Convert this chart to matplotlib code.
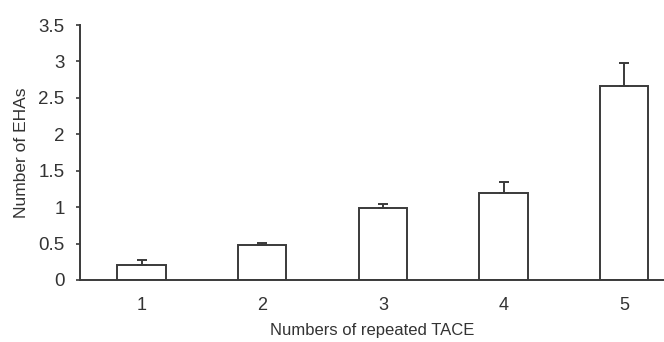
import matplotlib
matplotlib.use("Agg")
import matplotlib.pyplot as plt

categories = ["1", "2", "3", "4", "5"]
values = [0.21, 0.48, 0.99, 1.19, 2.66]
errors = [0.06, 0.03, 0.06, 0.16, 0.32]
yticks = [0, 0.5, 1, 1.5, 2, 2.5, 3, 3.5]
ytick_labels = ["0", "0.5", "1", "1.5", "2", "2.5", "3", "3.5"]

plt.rcParams['font.family'] = ['Liberation Sans', 'DejaVu Sans']
col = "#3a3a3a"
tcol = "#333333"
fig = plt.figure(figsize=(6.64, 3.42), dpi=100)
ax = fig.add_axes([80 / 664, 62 / 342, 584 / 664, 255 / 342])
x = list(range(1, len(categories) + 1))
ax.bar(x, values, width=0.4, color="white", edgecolor=col, linewidth=1.4, zorder=2)
ax.errorbar(x, values, yerr=[[0] * len(errors), errors], fmt="none", ecolor=col,
            elinewidth=1.4, capsize=3.3, capthick=1.4, zorder=3)
ax.set_xlim(0.49, 5.33)
ax.set_ylim(0, 3.5)
ax.set_yticks(yticks)
ax.set_yticklabels(ytick_labels)
ax.set_xticks(x)
ax.set_xticklabels(categories)
for s in ["top", "right"]:
    ax.spines[s].set_visible(False)
for s in ["left", "bottom"]:
    ax.spines[s].set_color(col)
    ax.spines[s].set_linewidth(1.4)
ax.tick_params(axis="y", direction="out", length=3, width=1.2, color=col, labelsize=13.5, labelcolor=tcol, pad=8)
ax.tick_params(axis="x", length=0, labelsize=13, labelcolor=tcol, pad=12.5)
ax.set_ylabel("Number of EHAs", fontsize=12.5, color=tcol, labelpad=7)
ax.set_xlabel("Numbers of repeated TACE", fontsize=12, color=tcol, labelpad=6.5)
fig.savefig("out.png", dpi=100)
